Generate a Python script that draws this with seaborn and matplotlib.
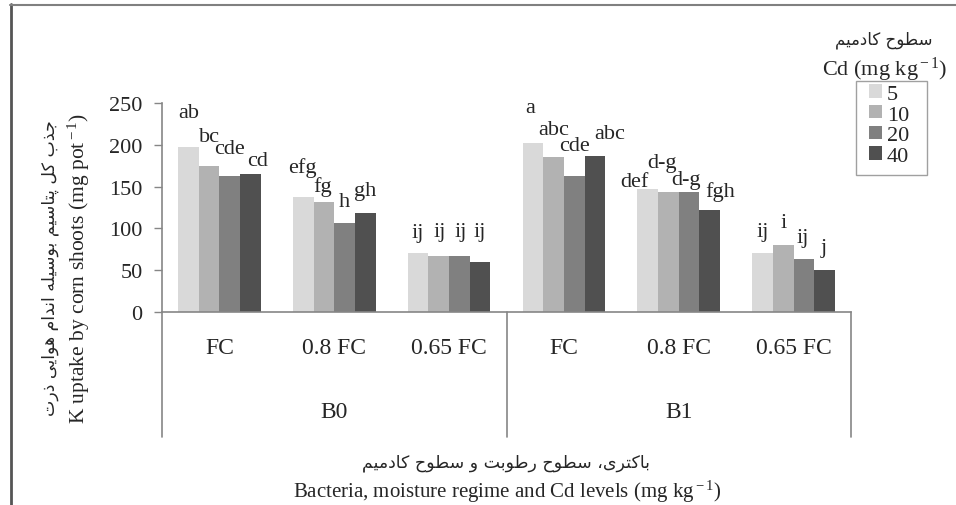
import matplotlib
matplotlib.use("Agg")
import matplotlib.pyplot as plt
import matplotlib.transforms as mtransforms
from matplotlib.lines import Line2D
from matplotlib.patches import Rectangle
import pandas as pd
import seaborn as sns

# data
bacteria = ["B0", "B0", "B0", "B1", "B1", "B1"]
moisture = ["FC", "0.8 FC", "0.65 FC", "FC", "0.8 FC", "0.65 FC"]
cd_levels = ["5", "10", "20", "40"]
k_uptake = {
    "5": [197, 138, 71, 202, 147, 71],
    "10": [175, 131, 67, 185, 143, 80],
    "20": [163, 106, 67, 163, 143, 63],
    "40": [165, 119, 60, 187, 122, 50],
}
letters = {
    "5": ["ab", "efg", "ij", "a", "def", "ij"],
    "10": ["bc", "fg", "ij", "abc", "d-g", "i"],
    "20": ["cde", "h", "ij", "cde", "d-g", "ij"],
    "40": ["cd", "gh", "ij", "abc", "fgh", "j"],
}
yticks = [0, 50, 100, 150, 200, 250]

colors = ["#d9d9d9", "#b2b2b2", "#808080", "#505050"]

# where each letter sits relative to its bar top (pixels: dx, height of centre)
label_nudge = {
    "5": [(0, 35), (-1, 30), (0, 20), (-3, 36), (-13, 8), (0, 21)],
    "10": [(0, 29), (-1, 16), (1, 24), (0, 28), (-6, 30), (0, 23)],
    "20": [(0, 27), (0, 22), (1, 24), (0, 30), (-3, 13), (-1, 22)],
    "40": [(7, 14), (0, 22), (0, 30), (15, 22), (10, 19), (-1, 23)],
}

# matplotlib has no arabic shaping, so pick presentation forms by hand
FORMS = {
    "ا": ("\ufe8d", "\ufe8e", None, None),
    "ب": ("\ufe8f", "\ufe90", "\ufe91", "\ufe92"),
    "ت": ("\ufe95", "\ufe96", "\ufe97", "\ufe98"),
    "ج": ("\ufe9d", "\ufe9e", "\ufe9f", "\ufea0"),
    "ح": ("\ufea1", "\ufea2", "\ufea3", "\ufea4"),
    "د": ("\ufea9", "\ufeaa", None, None),
    "ذ": ("\ufeab", "\ufeac", None, None),
    "ر": ("\ufead", "\ufeae", None, None),
    "س": ("\ufeb1", "\ufeb2", "\ufeb3", "\ufeb4"),
    "ط": ("\ufec1", "\ufec2", "\ufec3", "\ufec4"),
    "ل": ("\ufedd", "\ufede", "\ufedf", "\ufee0"),
    "م": ("\ufee1", "\ufee2", "\ufee3", "\ufee4"),
    "ن": ("\ufee5", "\ufee6", "\ufee7", "\ufee8"),
    "ه": ("\ufee9", "\ufeea", "\ufeeb", "\ufeec"),
    "و": ("\ufeed", "\ufeee", None, None),
    "پ": ("\ufb56", "\ufb57", "\ufb58", "\ufb59"),
    "ک": ("\ufb8e", "\ufb8f", "\ufb90", "\ufb91"),
    "ی": ("\ufbfc", "\ufbfd", "\ufbfe", "\ufbff"),
}


def fa(text):
    out = []
    for i, c in enumerate(text):
        if c not in FORMS:
            out.append(c)
            continue
        prev = text[i - 1] if i > 0 else ""
        nxt = text[i + 1] if i + 1 < len(text) else ""
        iso, fin, ini, med = FORMS[c]
        jp = prev in FORMS and FORMS[prev][2] is not None
        jn = ini is not None and nxt in FORMS
        if jp and jn:
            out.append(med)
        elif jp:
            out.append(fin)
        elif jn:
            out.append(ini)
        else:
            out.append(iso)
    return "".join(reversed(out))


rows = []
for lev in cd_levels:
    for i in range(len(moisture)):
        rows.append({"cat": bacteria[i] + " " + moisture[i], "cd": lev,
                     "value": k_uptake[lev][i]})
df = pd.DataFrame(rows)
order = [b + " " + m for b, m in zip(bacteria, moisture)]

sns.set_style("white")
plt.rcParams["font.family"] = ["Liberation Serif", "DejaVu Sans"]
plt.rcParams["mathtext.fontset"] = "custom"
plt.rcParams["mathtext.rm"] = "Liberation Serif"
plt.rcParams["mathtext.it"] = "Liberation Serif:italic"

fig = plt.figure(figsize=(9.56, 5.06), dpi=100)
ax = fig.add_axes([162 / 956, 1 - 313 / 506, (851 - 162) / 956, 209 / 506])

sns.barplot(data=df, x="cat", y="value", hue="cd", order=order,
            hue_order=cd_levels, palette=colors, saturation=1, width=0.72,
            linewidth=0, errorbar=None, ax=ax, legend=True)

# significance letters
px = 72 / 100
for cont, lev in zip(ax.containers, cd_levels):
    for bar, txt, (dx, dy) in zip(cont, letters[lev], label_nudge[lev]):
        ax.annotate(txt, (bar.get_x() + bar.get_width() / 2, bar.get_height()),
                    xytext=(dx * px, dy * px), textcoords="offset points",
                    ha="center", va="center", fontsize=16)

ax.set_xlim(-0.5, len(order) - 0.5)
ax.set_ylim(0, 250)
ax.set_yticks(yticks)
ax.tick_params(axis="y", labelsize=16, length=6, width=1, color="#868686",
               direction="out", left=True, pad=8)
ax.set_xticks([])
ax.set_xlabel("")
ax.set_ylabel("")
for s in ["top", "right"]:
    ax.spines[s].set_visible(False)
for s in ["left", "bottom"]:
    ax.spines[s].set_color("#868686")
    ax.spines[s].set_linewidth(1.2)

# category axis: two levels
trans = mtransforms.blended_transform_factory(ax.transData, ax.transAxes)
for i, m in enumerate(moisture):
    ax.text(i, -0.172, m, transform=trans, ha="center", va="center",
            fontsize=17)
for b, x in [("B0", 1), ("B1", 4)]:
    ax.text(x, -0.478, b, transform=trans, ha="center", va="center",
            fontsize=17)
for x in [-0.5, 2.5, 5.5]:
    ax.plot([x, x], [0, -0.598], transform=trans, color="#868686", lw=1.2,
            clip_on=False)

# axis titles
fig.text(50 / 956, 1 - 268 / 506, fa("جذب کل پتاسیم بوسیله اندام هوایی ذرت"),
         rotation=90, ha="center", va="center", fontsize=12.5,
         family=["DejaVu Sans"])
fig.text(79 / 956, 1 - 268 / 506,
         "K uptake by corn shoots (mg pot$^{\\rm -1}$)",
         rotation=90, ha="center", va="center", fontsize=15.5)
fig.text(506 / 956, 1 - 463 / 506, fa("باکتری، سطوح رطوبت و سطوح کادمیم"),
         ha="center", va="center", fontsize=12.5, family=["DejaVu Sans"])
fig.text(507 / 956, 1 - 492 / 506,
         "Bacteria, moisture regime and Cd levels (mg kg$^{\\rm -1}$)",
         ha="center", va="center", fontsize=15)

# legend
fig.text(884 / 956, 1 - 40 / 506, fa("سطوح کادمیم"), ha="center",
         va="center", fontsize=12, family=["DejaVu Sans"])
fig.text(885 / 956, 1 - 70 / 506, "Cd (mg kg$^{\\rm -1}$)",
         ha="center", va="center", fontsize=16)
handles, labels = ax.get_legend_handles_labels()
leg = ax.legend(handles, labels, loc="upper left",
                bbox_to_anchor=(866 / 956, 1 - 82 / 506),
                bbox_transform=fig.transFigure, frameon=False, fontsize=16,
                handlelength=0.55, handleheight=0.55, handletextpad=0.25,
                labelspacing=0.05, borderpad=0.15, borderaxespad=0)
fig.add_artist(Rectangle((856 / 956, 1 - 176 / 506), 71 / 956, 94 / 506,
                         transform=fig.transFigure, fill=False,
                         edgecolor="#a0a0a0", lw=1))

# outer frame of the picture
fig.add_artist(Line2D([10.5 / 956, 10.5 / 956], [0, 1 - 5 / 506],
                      transform=fig.transFigure, color="#555555", lw=2))
fig.add_artist(Line2D([10 / 956, 1], [1 - 5.5 / 506, 1 - 5.5 / 506],
                      transform=fig.transFigure, color="#808080", lw=1.5))

fig.savefig("out.png", dpi=100, facecolor="white")
